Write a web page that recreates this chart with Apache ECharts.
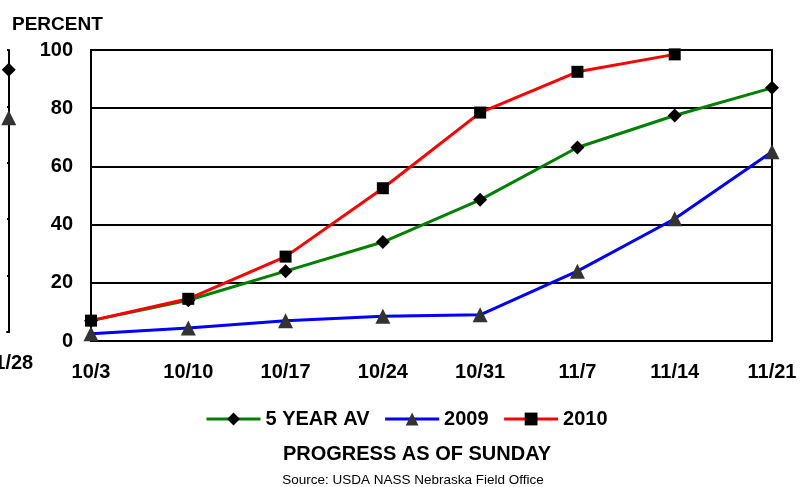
<!DOCTYPE html>
<html>
<head>
<meta charset="utf-8">
<script src="https://cdn.jsdelivr.net/npm/echarts@6/dist/echarts.min.js"></script>
<style>
html,body{margin:0;padding:0;background:#fff;}
#c{width:809px;height:487px;}
</style>
</head>
<body>
<div id="c"></div>
<script>
var categories = ['10/3','10/10','10/17','10/24','10/31','11/7','11/14','11/21'];
var fiveYearAv = [7, 14, 24, 34, 48.5, 66.5, 77.5, 87];
var y2009 = [2.5, 4.5, 7, 8.5, 9, 24, 42, 65];
var y2010 = [7, 14.5, 29, 52.5, 78.5, 92.5, 98.5, null];
var yTicks = [0, 20, 40, 60, 80, 100];
// fragment of the neighbouring chart visible at the left edge
var fragCategories = ['11/21', '11/28'];
var fragFiveYearAv = [87, 93];
var fragY2009 = [65, 76];

var FONT = 'Liberation Sans, Arial, sans-serif';
var chart = echarts.init(document.getElementById('c'));

function mk(name, data, lineColor, symbol, size, symColor, xi, yi) {
  return {
    name: name, type: 'line', data: data, xAxisIndex: xi, yAxisIndex: yi,
    symbol: symbol, symbolSize: size, showAllSymbol: true,
    lineStyle: {color: lineColor, width: 3},
    itemStyle: {color: symColor},
    emphasis: {disabled: true},
    animation: false
  };
}
function pairs(arr) { return arr.map(function (v, i) { return [i, v]; }); }

chart.setOption({
  animation: false,
  backgroundColor: '#fff',
  textStyle: {fontFamily: FONT},
  title: [
    {text: 'PERCENT', left: 7, top: 10, textStyle: {fontFamily: FONT, fontSize: 19, fontWeight: 'bold', color: '#000'}},
    {text: 'PROGRESS AS OF SUNDAY', left: 412, textAlign: 'center', top: 439, textStyle: {fontFamily: FONT, fontSize: 20, fontWeight: 'bold', color: '#000'}},
    {text: 'Source: USDA NASS Nebraska Field Office', left: 408, textAlign: 'center', top: 468, textStyle: {fontFamily: FONT, fontSize: 13.5, fontWeight: 'normal', color: '#000'}}
  ],
  legend: {
    data: ['5 YEAR AV', '2009', '2010'],
    left: 200, top: 404,
    itemWidth: 54, itemHeight: 16, itemGap: 14,
    lineStyle: {width: 3},
    textStyle: {fontFamily: FONT, fontSize: 20, fontWeight: 'bold', color: '#000'}
  },
  grid: [
    {left: 91, top: 50, width: 681, height: 291, show: true, borderColor: '#000', borderWidth: 2, containLabel: false},
    {left: 0, top: 50, width: 7, height: 282, show: false, containLabel: false}
  ],
  xAxis: [
    {type: 'category', data: categories, boundaryGap: false, gridIndex: 0,
     axisLine: {lineStyle: {color: '#000', width: 2}}, axisTick: {show: false},
     axisLabel: {margin: 21, fontFamily: FONT, fontSize: 20, fontWeight: 'bold', color: '#000', interval: 0}},
    {type: 'value', min: 0.96, max: 1, interval: 0.04, gridIndex: 1,
     axisLine: {show: true, lineStyle: {color: '#000', width: 2}}, axisTick: {show: false},
     splitLine: {show: false},
     axisLabel: {margin: 21, fontFamily: FONT, fontSize: 20, fontWeight: 'bold', color: '#000',
       showMinLabel: false, showMaxLabel: true,
       formatter: function (v) { return Math.abs(v - 1) < 1e-6 ? fragCategories[1] : ''; }}}
  ],
  yAxis: [
    {type: 'value', min: yTicks[0], max: yTicks[yTicks.length - 1], interval: 20, gridIndex: 0,
     axisLine: {show: true, lineStyle: {color: '#000', width: 2}}, axisTick: {show: false},
     splitLine: {lineStyle: {color: '#000', width: 2}},
     axisLabel: {margin: 18, fontFamily: FONT, fontSize: 20, fontWeight: 'bold', color: '#000'}},
    {type: 'value', min: 0, max: 100, interval: 20, gridIndex: 1, position: 'right',
     axisLine: {show: true, lineStyle: {color: '#000', width: 2}}, axisTick: {show: false},
     splitLine: {lineStyle: {color: '#000', width: 2}},
     axisLabel: {show: false}}
  ],
  series: [
    mk('5 YEAR AV', fiveYearAv, '#008000', 'diamond', 14, '#000', 0, 0),
    mk('2009', y2009, '#0000ff', 'triangle', 15, '#333', 0, 0),
    mk('2010', y2010, '#ff0000', 'rect', 12, '#000', 0, 0),
    mk('5 YEAR AV', pairs(fragFiveYearAv), '#008000', 'diamond', 14, '#000', 1, 1),
    mk('2009', pairs(fragY2009), '#0000ff', 'triangle', 15, '#333', 1, 1)
  ]
});
</script>
</body>
</html>
